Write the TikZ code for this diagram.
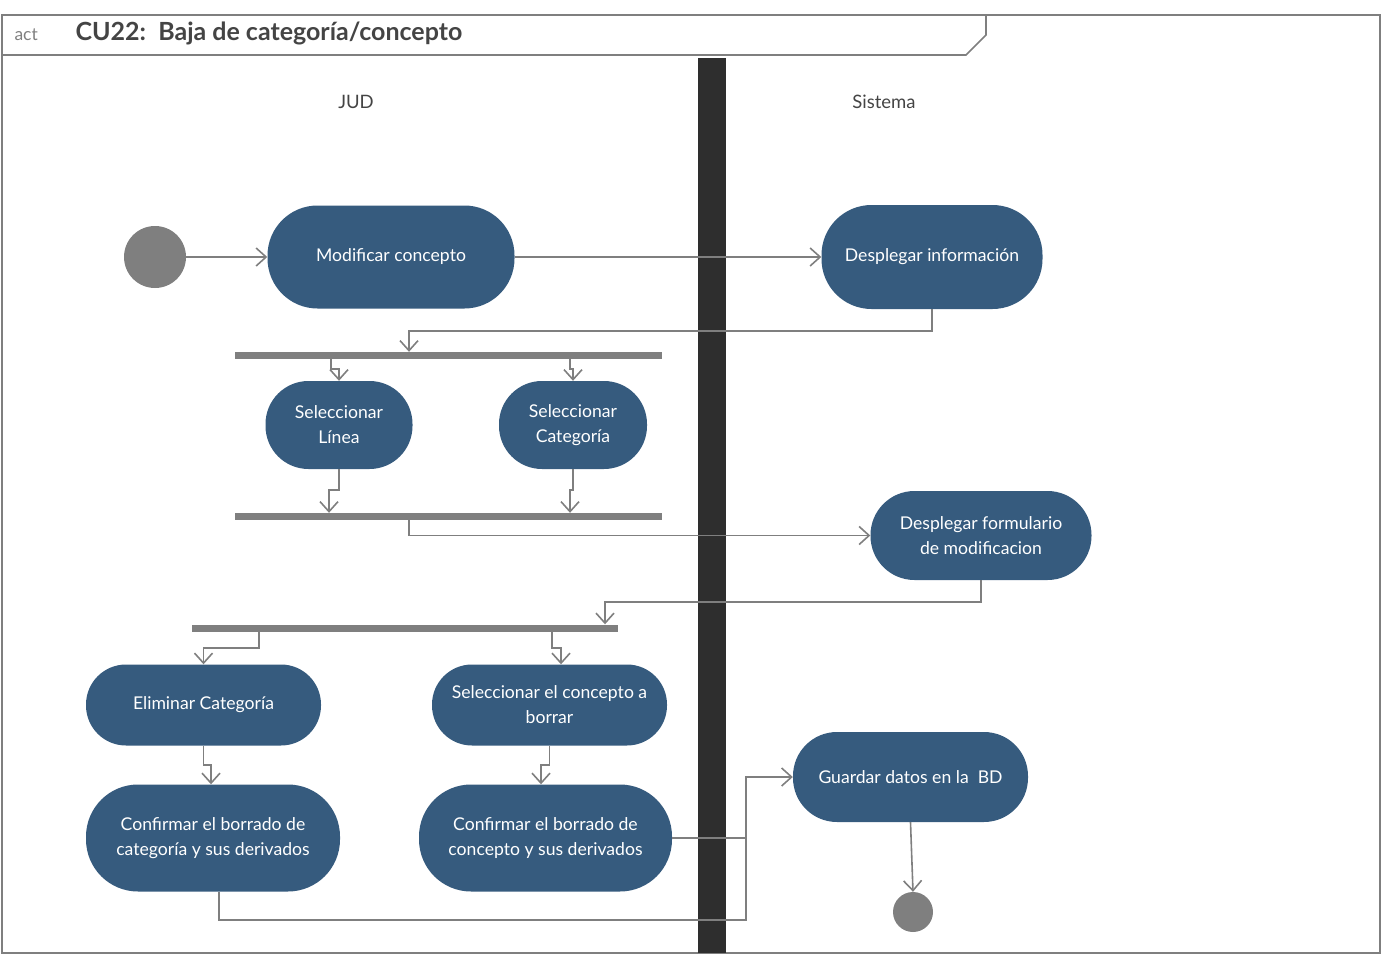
\documentclass[tikz,border=0pt]{standalone}
\usepackage{fontspec}
\setmainfont{Lato}
\usetikzlibrary{arrows.meta}
\definecolor{nodeblue}{HTML}{365B7E}
\definecolor{linegray}{HTML}{7F7F7F}
\definecolor{bargray}{HTML}{2E2E2E}
\definecolor{textgray}{HTML}{444444}
\tikzset{
  actbox/.style n args={3}{draw=none, fill=nodeblue, text=white, align=center,
    minimum width=#1pt, minimum height=#2pt, rounded corners=#3pt, inner sep=0pt,
    font=\fontsize{17.6}{25}\selectfont},
  forkbar/.style={fill=linegray, draw=none, inner sep=0pt, minimum height=7pt},
  flow/.style={draw=linegray, line width=1.6pt, -{Straight Barb[length=10pt,width=18pt,line width=1.6pt]}},
  plainflow/.style={draw=linegray, line width=1.6pt},
  lanelabel/.style={text=textgray, font=\fontsize{18.5}{22}\selectfont},
}
\begin{document}
\begin{tikzpicture}[x=1pt,y=-1pt]
\useasboundingbox (0,0) rectangle (1381,955);
% frame
\draw[linegray, line width=1.6pt] (2,15) rectangle (1380,953);
\draw[linegray, line width=1.6pt] (2,55) -- (966,55) -- (986,35) -- (986,15);
\node[anchor=west, text=linegray, font=\fontsize{17.5}{20}\selectfont] (actlbl) at (11,35) {act};
\node[anchor=west, text=textgray, font=\fontsize{25}{28}\selectfont\bfseries] (title) at (72,33) {CU22:\ \ Baja de categoría/concepto};
% swimlane divider
\fill[bargray] (698,58) rectangle (726,953);
\node[lanelabel] (jud) at (356,102) {JUD};
\node[lanelabel] (sis) at (884,102) {Sistema};
% nodes
\node[circle, fill=linegray, minimum size=62pt, inner sep=0pt] (start) at (155,257) {};
\node[actbox={247}{103}{50}] (modif) at (391,257) {Modificar concepto};
\node[actbox={221}{104}{50}] (despinfo) at (932,257) {Desplegar información};
\node[forkbar, minimum width=427pt] (bar1) at (448.5,355.5) {};
\node[actbox={147}{88}{43}] (selLin) at (339,425) {Seleccionar\\Línea};
\node[actbox={148}{88}{43}] (selCat) at (573,425) {Seleccionar\\Categoría};
\node[forkbar, minimum width=427pt] (bar2) at (448.5,516.5) {};
\node[actbox={221}{89}{44}] (despform) at (981,535.5) {Desplegar formulario\\de modificacion};
\node[forkbar, minimum width=426pt] (bar3) at (405,628) {};
\node[actbox={235}{81}{40}] (elimCat) at (203.5,705) {Eliminar Categoría};
\node[actbox={235}{81}{40}] (selCon) at (549.5,705) {Seleccionar el concepto a\\borrar};
\node[actbox={235}{90}{44}] (guardar) at (910.5,777) {Guardar datos en la\ \ BD};
\node[actbox={254}{107}{52}] (confCat) at (213,838) {Confirmar el borrado de\\categoría y sus derivados};
\node[actbox={253}{107}{52}] (confCon) at (545.5,838) {Confirmar el borrado de\\concepto y sus derivados};
\node[circle, fill=linegray, minimum size=40pt, inner sep=0pt] (endn) at (913,912) {};
\coordinate (merge) at (746,838);
% connectors
\draw[flow] (start.east) -- (modif.west);
\draw[flow] (modif.east) -- (despinfo.west);
\draw[flow] (despinfo.south) -- ++(0,22) -| (bar1.north -| 409,0);
\draw[flow] (bar1.south -| 331,0) -- (331,369) -- (339,369) -- (selLin.north);
\draw[flow] (bar1.south -| 570,0) -- (570,369) -- (573,369) -- (selCat.north);
\draw[flow] (selLin.south) -- (339,490) -- (329,490) -- (bar2.north -| 329,0);
\draw[flow] (selCat.south) -- (573,490) -- (570,490) -- (bar2.north -| 570,0);
\draw[flow] (bar2.south -| 409,0) |- (despform.west);
\draw[flow] (despform.south) -- (981,602) -| (bar3.north -| 605,0);
\draw[flow] (bar3.south -| 259,0) -- (259,648) -- (203.5,648) -- (elimCat.north);
\draw[flow] (bar3.south -| 552,0) -- (552,648) -- (561,648) -- (selCon.north -| 561,0);
\draw[flow] (elimCat.south) -- (203.5,765) -- (211,765) -- (confCat.north -| 211,0);
\draw[flow] (selCon.south) -- (549.5,765) -- (541,765) -- (confCon.north -| 541,0);
\draw[flow] (confCon.east) -- (merge) |- (guardar.west);
\draw[plainflow] (confCat.south -| 219,0) -- (219,920) -| (merge);
\draw[flow] (guardar.south) -- (endn.north);
\end{tikzpicture}
\end{document}
